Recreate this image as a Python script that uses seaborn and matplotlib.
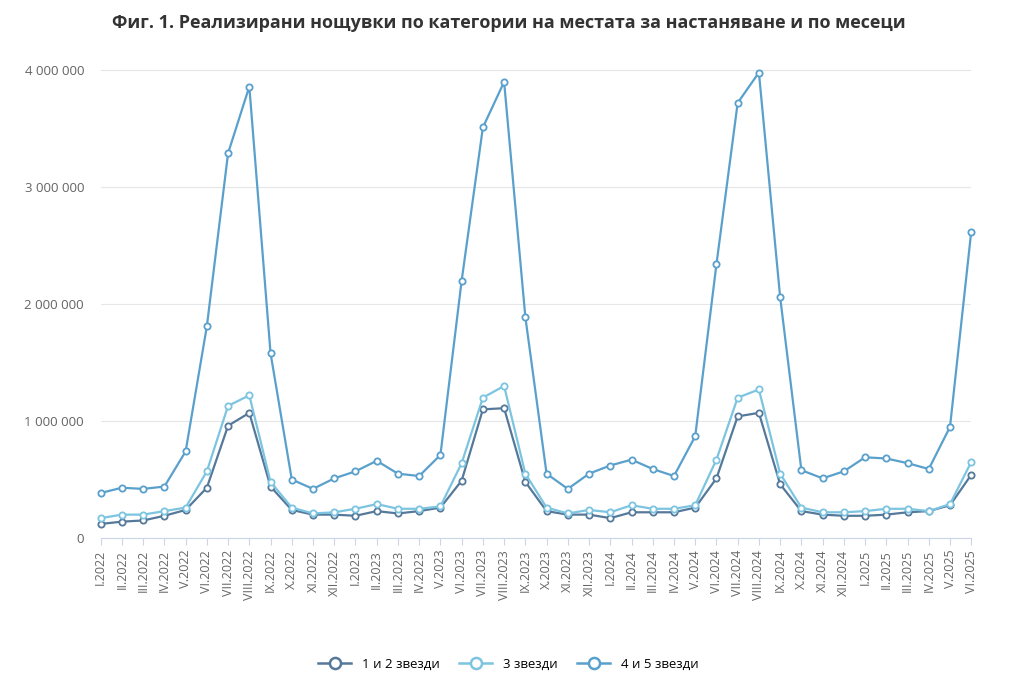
import matplotlib
matplotlib.use("Agg")
import matplotlib.pyplot as plt
import seaborn as sns
import pandas as pd
from matplotlib.ticker import FuncFormatter

roman = ["I", "II", "III", "IV", "V", "VI", "VII", "VIII", "IX", "X", "XI", "XII"]
months = [f"{roman[m]}.{y}" for y in range(2022, 2026) for m in range(12)][:42]

stars_1_2 = [0.12, 0.14, 0.15, 0.19, 0.24, 0.43, 0.96, 1.07, 0.44, 0.24, 0.20, 0.20,
             0.19, 0.23, 0.21, 0.23, 0.26, 0.49, 1.10, 1.11, 0.48, 0.23, 0.20, 0.20,
             0.17, 0.22, 0.22, 0.22, 0.26, 0.51, 1.04, 1.07, 0.46, 0.23, 0.20, 0.19,
             0.19, 0.20, 0.22, 0.23, 0.28, 0.54]
stars_3 = [0.17, 0.20, 0.20, 0.23, 0.26, 0.57, 1.13, 1.22, 0.48, 0.26, 0.21, 0.22,
           0.25, 0.29, 0.25, 0.25, 0.27, 0.64, 1.20, 1.30, 0.55, 0.26, 0.21, 0.24,
           0.22, 0.28, 0.25, 0.25, 0.28, 0.67, 1.20, 1.27, 0.55, 0.26, 0.22, 0.22,
           0.23, 0.25, 0.25, 0.23, 0.29, 0.65]
stars_4_5 = [0.385, 0.43, 0.42, 0.44, 0.74, 1.81, 3.29, 3.86, 1.58, 0.50, 0.42, 0.51,
             0.57, 0.66, 0.55, 0.53, 0.71, 2.20, 3.51, 3.90, 1.89, 0.55, 0.42, 0.55,
             0.62, 0.67, 0.59, 0.53, 0.87, 2.34, 3.72, 3.98, 2.06, 0.58, 0.51, 0.57,
             0.69, 0.68, 0.64, 0.59, 0.95, 2.62]

series = {"1 и 2 звезди": stars_1_2, "3 звезди": stars_3, "4 и 5 звезди": stars_4_5}
palette = {"1 и 2 звезди": "#55799a", "3 звезди": "#7cc4e0", "4 и 5 звезди": "#5aa0cc"}

rows = []
for name, vals in series.items():
    for i, v in enumerate(vals):
        rows.append({"month": i, "value": v * 1e6, "cat": name})
df = pd.DataFrame(rows)

plt.rcParams["font.family"] = "Open Sans"
fig = plt.figure(figsize=(10.17, 6.88), dpi=100)
ax = fig.add_axes([0.099, 0.218, 0.856, 0.6936])

sns.lineplot(data=df, x="month", y="value", hue="cat", palette=palette, ax=ax,
             marker="o", markersize=4.5, linewidth=1.6, legend=False)

# hohle Marker mit farbigem Rand
for line in ax.get_lines():
    line.set_markerfacecolor("white")
    line.set_markeredgecolor(line.get_color())
    line.set_markeredgewidth(1.3)
    line.set_clip_on(False)

ax.set_xlim(0, 41)
ax.set_ylim(0, 4.08e6)
ax.set_yticks([0, 1e6, 2e6, 3e6, 4e6])
ax.yaxis.set_major_formatter(FuncFormatter(lambda v, p: f"{int(v):,}".replace(",", " ")))
ax.set_xticks(range(len(months)))
ax.set_xticklabels(months, rotation=90, fontsize=9, color="#666666")
ax.tick_params(axis="y", labelsize=9.5, colors="#666666", length=0, pad=12)
ax.tick_params(axis="x", length=5, color="#ccd6eb")
ax.grid(axis="y", color="#e6e6e6", linewidth=0.8)
ax.set_axisbelow(True)
for s in ["top", "right", "left"]:
    ax.spines[s].set_visible(False)
ax.spines["bottom"].set_color("#ccd6eb")
ax.set_xlabel("")
ax.set_ylabel("")

fig.suptitle("Фиг. 1. Реализирани нощувки по категории на местата за настаняване и по месеци",
             x=0.5, y=0.98, fontsize=13, fontweight="bold", color="#333333")

handles = [plt.Line2D([], [], color=palette[k], marker="o", markersize=8,
                      markerfacecolor="white", markeredgewidth=1.8, linewidth=1.8)
           for k in series]
fig.legend(handles, list(series.keys()), loc="center", bbox_to_anchor=(0.5, 0.035),
           ncol=3, frameon=False, fontsize=9.5, handlelength=2.5, columnspacing=1.5)

fig.savefig("out.png", dpi=100)
